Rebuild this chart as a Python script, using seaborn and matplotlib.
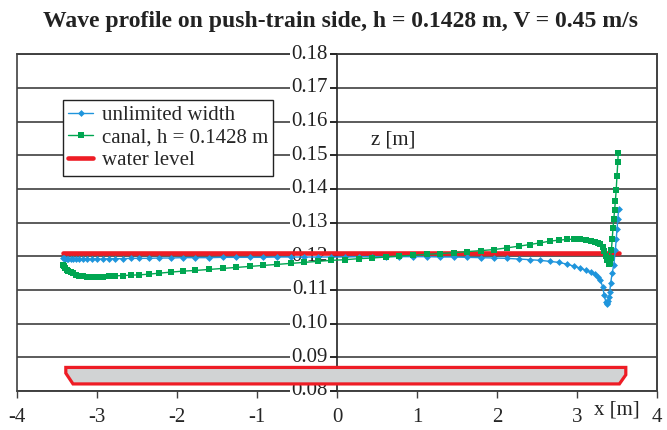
import numpy as np
import pandas as pd
import matplotlib
matplotlib.use('Agg')
import matplotlib.pyplot as plt
from matplotlib.patches import Polygon
import seaborn as sns

BLUE = '#1f95dc'
GREEN = '#00a651'
RED = '#ee1c25'
GRID = '#404040'
DARK = '#222222'

# data
x_unlim = [-3.42, -3.41, -3.40, -3.38, -3.36, -3.33, -3.30, -3.26, -3.22, -3.17,
           -3.12, -3.06, -3.00, -2.93, -2.85, -2.77, -2.68, -2.58, -2.47, -2.35,
           -2.22, -2.08, -1.93, -1.77, -1.60, -1.43, -1.26, -1.09, -0.92, -0.75,
           -0.58, -0.41, -0.24, -0.07, 0.10, 0.27, 0.44, 0.61, 0.78, 0.95,
           1.12, 1.29, 1.46, 1.63, 1.80, 1.96, 2.12, 2.27, 2.41, 2.54,
           2.66, 2.77, 2.87, 2.96, 3.04, 3.11, 3.17, 3.22, 3.26, 3.29,
           3.32, 3.34, 3.36, 3.37, 3.38, 3.39, 3.40, 3.41, 3.42, 3.44,
           3.46, 3.48, 3.49, 3.50, 3.51, 3.52]
z_unlim = [0.1196, 0.1194, 0.1193, 0.1192, 0.1192, 0.1191, 0.1191, 0.1191, 0.1191, 0.1191,
           0.1191, 0.1192, 0.1192, 0.1192, 0.1193, 0.1193, 0.1193, 0.1194, 0.1194, 0.1194,
           0.1195, 0.1195, 0.1196, 0.1196, 0.1196, 0.1197, 0.1197, 0.1197, 0.1197, 0.1198,
           0.1198, 0.1198, 0.1198, 0.1198, 0.1198, 0.1199, 0.1199, 0.1199, 0.1199, 0.1199,
           0.1199, 0.1198, 0.1198, 0.1197, 0.1196, 0.1195, 0.1194, 0.1192, 0.1190, 0.1188,
           0.1185, 0.1182, 0.1177, 0.1171, 0.1165, 0.1159, 0.1153, 0.1147, 0.1140, 0.1131,
           0.1110, 0.1085, 0.1065, 0.1058, 0.1060, 0.1068, 0.1080, 0.1095, 0.1120, 0.1150,
           0.1175, 0.1220, 0.1250, 0.1280, 0.1310, 0.1340]

x_canal = [-3.42, -3.41, -3.40, -3.38, -3.36, -3.33, -3.30, -3.26, -3.22, -3.17,
           -3.12, -3.06, -3.00, -2.93, -2.85, -2.77, -2.68, -2.58, -2.47, -2.35,
           -2.22, -2.08, -1.93, -1.77, -1.60, -1.43, -1.26, -1.09, -0.92, -0.75,
           -0.58, -0.41, -0.24, -0.07, 0.10, 0.27, 0.44, 0.61, 0.78, 0.95,
           1.12, 1.29, 1.46, 1.63, 1.80, 1.96, 2.12, 2.27, 2.41, 2.54,
           2.66, 2.77, 2.87, 2.96, 3.04, 3.11, 3.17, 3.22, 3.26, 3.29,
           3.32, 3.34, 3.36, 3.38, 3.40, 3.41, 3.42, 3.43, 3.44, 3.45,
           3.46, 3.47, 3.48, 3.49, 3.50, 3.51, 3.515]
z_canal = [0.1175, 0.1170, 0.1165, 0.1160, 0.1157, 0.1153, 0.1150, 0.1146, 0.1143, 0.1141,
           0.1140, 0.1139, 0.1139, 0.1140, 0.1141, 0.1142, 0.1143, 0.1144, 0.1145, 0.1147,
           0.1150, 0.1153, 0.1156, 0.1158, 0.1161, 0.1164, 0.1167, 0.1170, 0.1173, 0.1176,
           0.1179, 0.1182, 0.1185, 0.1188, 0.1190, 0.1193, 0.1195, 0.1198, 0.1201, 0.1203,
           0.1206, 0.1208, 0.1211, 0.1214, 0.1217, 0.1220, 0.1225, 0.1230, 0.1235, 0.1240,
           0.1245, 0.1248, 0.1250, 0.1251, 0.1251, 0.1249, 0.1246, 0.1243, 0.1241, 0.1238,
           0.1228, 0.1215, 0.1200, 0.1188, 0.1178, 0.1180, 0.1195, 0.1219, 0.1250, 0.1284,
           0.1310, 0.1338, 0.1365, 0.1397, 0.1440, 0.1480, 0.1506]

x_water = [-3.42, 3.52]
z_water = [0.121, 0.121]

# hull outline (bottom sketch)
x_hull = [-3.39, 3.61, 3.61, 3.53, -3.30, -3.39]
z_hull = [0.0870, 0.0870, 0.0848, 0.0821, 0.0821, 0.0853]

x_ticks = [-4, -3, -2, -1, 0, 1, 2, 3, 4]
z_ticks = [0.08, 0.09, 0.10, 0.11, 0.12, 0.13, 0.14, 0.15, 0.16, 0.17, 0.18]

sns.set_theme(style='white')
plt.rcParams['font.family'] = ['Liberation Serif', 'DejaVu Serif']

fig = plt.figure(figsize=(6.67, 4.30), dpi=100)
ax = fig.add_axes([0.0255, 0.0907, 0.9595, 0.783])

df_u = pd.DataFrame({'x': x_unlim, 'z': z_unlim})
df_c = pd.DataFrame({'x': x_canal, 'z': z_canal})
df_w = pd.DataFrame({'x': x_water, 'z': z_water})

sns.lineplot(data=df_u, x='x', y='z', ax=ax, sort=False, estimator=None,
             color=BLUE, lw=1, marker='D', markersize=3.5, markeredgewidth=0,
             label='unlimited width', zorder=4)
sns.lineplot(data=df_c, x='x', y='z', ax=ax, sort=False, estimator=None,
             color=GREEN, lw=1, marker='s', markersize=4.2, markeredgewidth=0,
             label='canal, h = 0.1428 m', zorder=4)
sns.lineplot(data=df_w, x='x', y='z', ax=ax, sort=False, estimator=None,
             color=RED, lw=3.3, label='water level', zorder=3)

hull = Polygon(list(zip(x_hull, z_hull)), closed=True, facecolor='#d1d3d4',
               edgecolor=RED, lw=2.3, zorder=3)
ax.add_patch(hull)

# horizontal grid
for z in z_ticks:
    ax.axhline(z, color=GRID, lw=1.2, zorder=0.2)

# y axis drawn through x = 0, outer frame from spines + axes patch
ax.spines['left'].set_position(('data', 0))
ax.spines['left'].set_color(DARK)
ax.spines['left'].set_linewidth(1.2)
for side in ['right', 'top', 'bottom']:
    ax.spines[side].set_visible(True)
    ax.spines[side].set_color(GRID)
    ax.spines[side].set_linewidth(1.2)
for s in ax.spines.values():
    s.set_zorder(0.25)
ax.patch.set_edgecolor(GRID)
ax.patch.set_linewidth(1.2)

ax.set_xlim(-4, 4)
ax.set_ylim(0.08, 0.18)
ax.set_xticks(x_ticks)
ax.set_xticklabels([str(v) for v in x_ticks])
ax.tick_params(axis='x', bottom=True, direction='out', length=5, width=1,
               color=GRID, labelsize=15, pad=7)
ax.set_yticks(z_ticks)
ax.tick_params(axis='y', left=True, direction='out', length=5, width=1.2,
               color=DARK, labelleft=False)
ax.grid(False)
ax.set_xlabel('')
ax.set_ylabel('')

# z labels beside the x = 0 axis, white box so the grid stops at them
for z in z_ticks:
    ax.annotate(f'{z:.2f}', xy=(0, z), xytext=(-6.5, 0), textcoords='offset points',
                ha='right', va='center', fontsize=15, color=DARK, zorder=1,
                bbox=dict(boxstyle='square,pad=0.08', facecolor='white',
                          edgecolor='none'),
                annotation_clip=False)

ax.text(0.42, 0.1545, 'z [m]', fontsize=15, ha='left', va='center', color=DARK)
ax.annotate('x [m]', xy=(3.5, 0.08), xytext=(0, -7), textcoords='offset points',
            ha='center', va='top', fontsize=15, color=DARK)

leg = ax.legend(loc='upper left', bbox_to_anchor=(0.0719, 0.864), borderaxespad=0,
                fontsize=15, frameon=True, fancybox=False, framealpha=1,
                edgecolor=DARK, handlelength=1.2, handletextpad=0.4,
                labelspacing=0.15, borderpad=0.25)
leg.get_frame().set_linewidth(1.0)
leg.set_zorder(6)

fig.text(0.51, 0.949, 'Wave profile on push-train side, h = 0.1428 m, V = 0.45 m/s',
         ha='center', va='center', fontsize=17, fontweight='bold', color=DARK)

fig.savefig('out.png', dpi=100)
